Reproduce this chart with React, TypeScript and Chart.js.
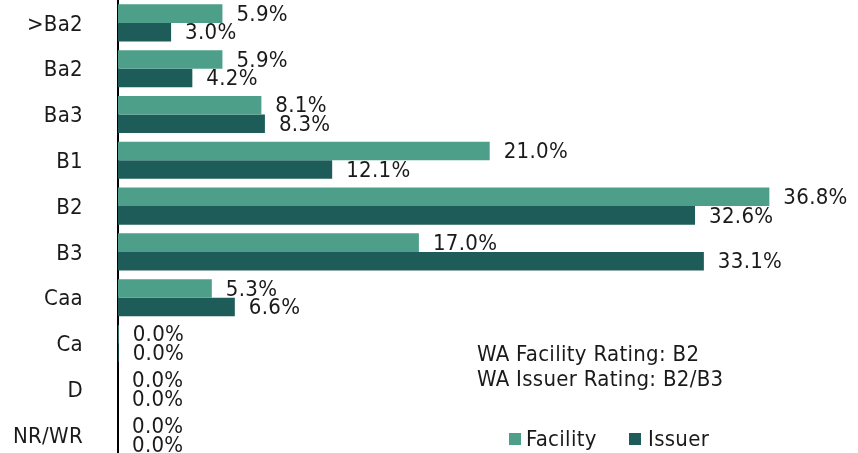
import React, { useEffect, useRef } from "react";
import { Chart, registerables } from "chart.js";

Chart.register(...registerables);

const categories = [">Ba2", "Ba2", "Ba3", "B1", "B2", "B3", "Caa", "Ca", "D", "NR/WR"];
const facilityValues = [5.9, 5.9, 8.1, 21.0, 36.8, 17.0, 5.3, 0.04, 0, 0];
const issuerValues = [3.0, 4.2, 8.3, 12.1, 32.6, 33.1, 6.6, 0.04, 0, 0];
const seriesNames = ["Facility", "Issuer"];
const seriesColors = ["#4e9f8a", "#1e5c59"];
const noteLines = ["WA Facility Rating: B2", "WA Issuer Rating: B2/B3"];
const xMax = 40;

const FONT_FAMILY = "'Liberation Sans Narrow', 'DejaVu Sans Condensed', 'Liberation Sans', sans-serif";
const FONT_SIZE = 22;
const SPACING = "0.3px";
const TEXT_COLOR = "#1a1a1a";

const spacingPlugin = {
  id: "spacing",
  beforeDraw(chart: any) {
    (chart.ctx as any).letterSpacing = SPACING;
  },
};

const labelPlugin = {
  id: "barLabels",
  afterDatasetsDraw(chart: any) {
    const ctx = chart.ctx;
    ctx.save();
    (ctx as any).letterSpacing = SPACING;
    ctx.font = `${FONT_SIZE}px ${FONT_FAMILY}`;
    ctx.fillStyle = TEXT_COLOR;
    ctx.textAlign = "left";
    ctx.textBaseline = "middle";
    chart.data.datasets.forEach((ds: any, di: number) => {
      const meta = chart.getDatasetMeta(di);
      meta.data.forEach((el: any, i: number) => {
        const v = ds.data[i] as number;
        ctx.fillText(v.toFixed(1) + "%", el.x + 14, el.y + 1.5);
      });
    });
    ctx.restore();
  },
};

const notePlugin = {
  id: "notesLegend",
  afterDraw(chart: any) {
    const ctx = chart.ctx;
    const W = chart.width;
    ctx.save();
    (ctx as any).letterSpacing = SPACING;
    ctx.font = `${FONT_SIZE}px ${FONT_FAMILY}`;
    ctx.fillStyle = TEXT_COLOR;
    ctx.textAlign = "left";
    ctx.textBaseline = "alphabetic";
    noteLines.forEach((t, i) => {
      ctx.fillText(t, W - 381, 361 + i * 25);
    });
    // legend
    const legendX = [W - 349, W - 229];
    seriesNames.forEach((name, i) => {
      ctx.fillStyle = seriesColors[i];
      ctx.fillRect(legendX[i], 433, 12, 12);
      ctx.fillStyle = TEXT_COLOR;
      ctx.fillText(name, legendX[i] + (i === 0 ? 17 : 19), 446);
    });
    ctx.restore();
  },
};

export default function App() {
  const ref = useRef<HTMLCanvasElement | null>(null);
  useEffect(() => {
    if (!ref.current) return;
    const chart = new Chart(ref.current, {
      type: "bar",
      data: {
        labels: categories,
        datasets: [
          {
            label: seriesNames[0],
            data: facilityValues,
            backgroundColor: seriesColors[0],
            categoryPercentage: 0.81,
            barPercentage: 1.0,
          },
          {
            label: seriesNames[1],
            data: issuerValues,
            backgroundColor: seriesColors[1],
            categoryPercentage: 0.81,
            barPercentage: 1.0,
          },
        ],
      },
      options: {
        indexAxis: "y",
        responsive: false,
        animation: false,
        layout: { padding: { left: 0, right: 32, top: 0, bottom: 0 } },
        plugins: {
          legend: { display: false },
          tooltip: { enabled: false },
        },
        scales: {
          x: {
            display: false,
            min: 0,
            max: xMax,
          },
          y: {
            afterFit(scale: any) {
              scale.width = 118;
              scale.paddingTop = 0;
              scale.paddingBottom = 0;
            },
            grid: { display: false, drawTicks: true, tickLength: 35, tickColor: "rgba(0,0,0,0)" },
            border: { display: true, color: "#000", width: 2 },
            ticks: {
              padding: 0,
              labelOffset: 2,
              color: TEXT_COLOR,
              font: { family: FONT_FAMILY, size: FONT_SIZE },
            },
          },
        },
      },
      plugins: [spacingPlugin, labelPlugin, notePlugin],
    });
    return () => chart.destroy();
  }, []);
  return (
    <div style={{ position: "fixed", left: 0, top: 0, width: 858, height: 458, background: "#fff" }}>
      <canvas ref={ref} width={858} height={458} style={{ display: "block" }} />
    </div>
  );
}
